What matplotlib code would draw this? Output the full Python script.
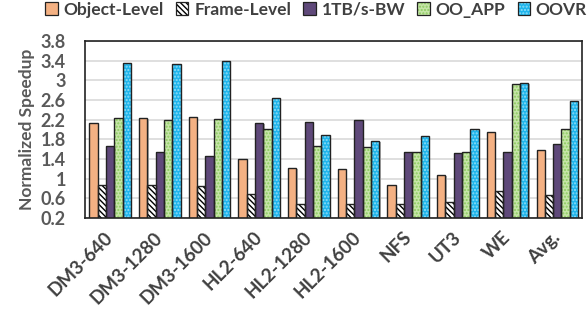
import numpy as np
import matplotlib.pyplot as plt
from matplotlib.legend_handler import HandlerTuple

plt.rcParams['font.family'] = ['Lato', 'DejaVu Sans']
plt.rcParams['font.weight'] = 'bold'
plt.rcParams['axes.labelweight'] = 'bold'
plt.rcParams['hatch.linewidth'] = 1.0

workloads = ['DM3-640', 'DM3-1280', 'DM3-1600', 'HL2-640', 'HL2-1280',
             'HL2-1600', 'NFS', 'UT3', 'WE', 'Avg.']
series = ['Object-Level', 'Frame-Level', '1TB/s-BW', 'OO_APP', 'OOVR']

object_level = [2.13, 2.23, 2.25, 1.40, 1.22, 1.19, 0.86, 1.08, 1.95, 1.59]
frame_level = [0.87, 0.86, 0.85, 0.68, 0.49, 0.48, 0.48, 0.52, 0.74, 0.66]
bw_1tb = [1.66, 1.55, 1.46, 2.14, 2.15, 2.20, 1.54, 1.52, 1.54, 1.70]
oo_app = [2.23, 2.19, 2.21, 2.01, 1.66, 1.64, 1.55, 1.55, 2.92, 2.00]
oovr = [3.35, 3.33, 3.39, 2.63, 1.89, 1.77, 1.87, 2.01, 2.95, 2.58]

yticks = [0.2, 0.6, 1, 1.4, 1.8, 2.2, 2.6, 3, 3.4, 3.8]

data = [object_level, frame_level, bw_1tb, oo_app, oovr]
# (face, hatch colour, hatch)
styles = [
    ('#F4B183', None, None),
    ('white', 'black', '\\\\\\\\\\\\'),
    ('#5F497A', None, None),
    ('#C6E5A8', '#8CCB5E', '.....'),
    ('#1FB5EC', '#8FDDF8', '.....'),
]

fig = plt.figure(figsize=(5.88, 3.10), dpi=100)
ax = fig.add_axes([0.145, 0.297, 0.845, 0.571])

x = np.arange(len(workloads))
w = 0.167
handles = []
for i, (vals, (fc, hc, hatch)) in enumerate(zip(data, styles)):
    pos = x + (i - 2) * w
    # soft shadow
    ax.bar(pos + 0.025, np.array(vals) - 0.02, w, color='#B0B0B0', linewidth=0,
           zorder=1.5)
    if hatch:
        ax.bar(pos, vals, w, color=fc, edgecolor=hc, hatch=hatch,
               linewidth=0, zorder=2)
    else:
        ax.bar(pos, vals, w, color=fc, linewidth=0, zorder=2)
    ax.bar(pos, vals, w, fill=False, edgecolor='#222222', linewidth=1.0, zorder=3)
    fill = plt.Rectangle((0, 0), 1, 1, facecolor=fc,
                         edgecolor=hc if hc else fc, hatch=hatch, linewidth=0)
    outline = plt.Rectangle((0, 0), 1, 1, fill=False, edgecolor='#222222',
                            linewidth=0.9)
    handles.append((fill, outline))

ax.set_xlim(-0.5, len(workloads) - 0.5)
ax.set_ylim(0.2, 3.8)
ax.set_yticks(yticks)
ax.set_yticklabels([f'{t:g}' for t in yticks])
ax.yaxis.grid(True, color='#D9D9D9', linewidth=1.2, zorder=0)
ax.set_axisbelow(True)
ax.tick_params(axis='y', length=0, labelsize=13, colors='#595959', pad=14)
ax.tick_params(axis='x', length=0, labelsize=13.5, colors='#404040', pad=12)
ax.set_xticks(x)
ax.set_xticklabels(workloads, rotation=45, ha='right', va='center',
                   rotation_mode='anchor')
for s in ax.spines.values():
    s.set_color('#222222')
    s.set_linewidth(1.2)

ax.set_ylabel('Normalized Speedup', fontsize=12.5, color='#595959', labelpad=4)

leg = fig.legend(handles, series, loc='upper right',
                 bbox_to_anchor=(587 / 588, 0.995), borderpad=0,
                 borderaxespad=0, ncol=5, frameon=False, fontsize=12.5,
                 handlelength=0.7, handleheight=0.7, handletextpad=0.35,
                 columnspacing=0.7,
                 handler_map={tuple: HandlerTuple(ndivide=1, pad=0)})
for t in leg.get_texts():
    t.set_color('#404040')

fig.savefig('out.png', dpi=100)
